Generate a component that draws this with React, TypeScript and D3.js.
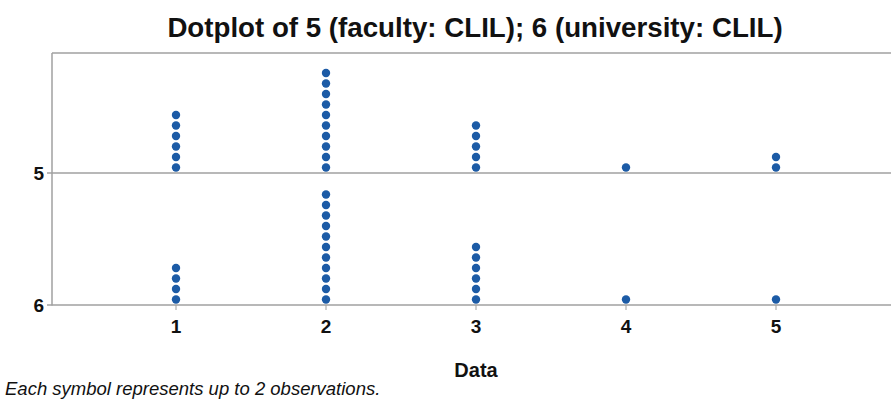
import React from "react";
import * as d3 from "d3";

const title = "Dotplot of 5 (faculty: CLIL); 6 (university: CLIL)";
const xValues = [1, 2, 3, 4, 5];
const panels = ["5", "6"];
const facultySymbols = [6, 10, 5, 1, 2];
const universitySymbols = [4, 11, 6, 1, 1];
const xLabel = "Data";
const footnote = "Each symbol represents up to 2 observations.";

const W = 891;
const H = 399;
const FONT = "'Liberation Sans', Arial, sans-serif";
const DOT = "#1c5ba6";
const GRID = "#a0a0a0";

export default function App() {
  const x = d3.scaleLinear().domain([1, 5]).range([176, 776]);
  const left = 52;
  const top = 53;
  const yPanel = d3.scalePoint<string>().domain(panels).range([173, 305]);
  const stack = d3.scaleLinear().domain([0, 1]).range([5.5, 16]);
  const series = [facultySymbols, universitySymbols];

  return (
    <svg width={W} height={H} style={{ position: "absolute", left: 0, top: 0, background: "#fff" }}>
      <text x={475} y={37} textAnchor="middle" fontFamily={FONT} fontWeight="bold" fontSize={27.7} fill="#111">
        {title}
      </text>
      {/* frame */}
      <line x1={left} x2={W} y1={top} y2={top} stroke={GRID} strokeWidth={1.5} />
      <line x1={left} x2={left} y1={top} y2={yPanel("6")! + 0.5} stroke={GRID} strokeWidth={1.5} />
      {panels.map((p) => (
        <g key={p}>
          <line x1={left} x2={W} y1={yPanel(p)!} y2={yPanel(p)!} stroke={GRID} strokeWidth={1.5} />
          <line x1={left - 5} x2={left} y1={yPanel(p)!} y2={yPanel(p)!} stroke={GRID} strokeWidth={1.5} />
          <text x={44} y={yPanel(p)! + 6.5} textAnchor="end" fontFamily={FONT} fontWeight="bold" fontSize={19} fill="#111">
            {p}
          </text>
        </g>
      ))}
      {/* x ticks */}
      {xValues.map((v) => (
        <g key={v}>
          <line x1={x(v)} x2={x(v)} y1={305} y2={310} stroke={GRID} strokeWidth={1} />
          <text x={x(v)} y={333} textAnchor="middle" fontFamily={FONT} fontWeight="bold" fontSize={19} fill="#111">
            {v}
          </text>
        </g>
      ))}
      {/* dots */}
      {series.map((counts, si) =>
        counts.map((c, i) =>
          d3.range(c).map((k) => (
            <circle
              key={`${si}-${i}-${k}`}
              cx={x(xValues[i])}
              cy={yPanel(panels[si])! - stack(k)}
              r={4.2}
              fill={DOT}
            />
          ))
        )
      )}
      <text x={476} y={377} textAnchor="middle" fontFamily={FONT} fontWeight="bold" fontSize={20} fill="#111">
        {xLabel}
      </text>
      <text x={5} y={395} fontFamily={FONT} fontStyle="italic" fontSize={18.5} fill="#111">
        {footnote}
      </text>
    </svg>
  );
}
